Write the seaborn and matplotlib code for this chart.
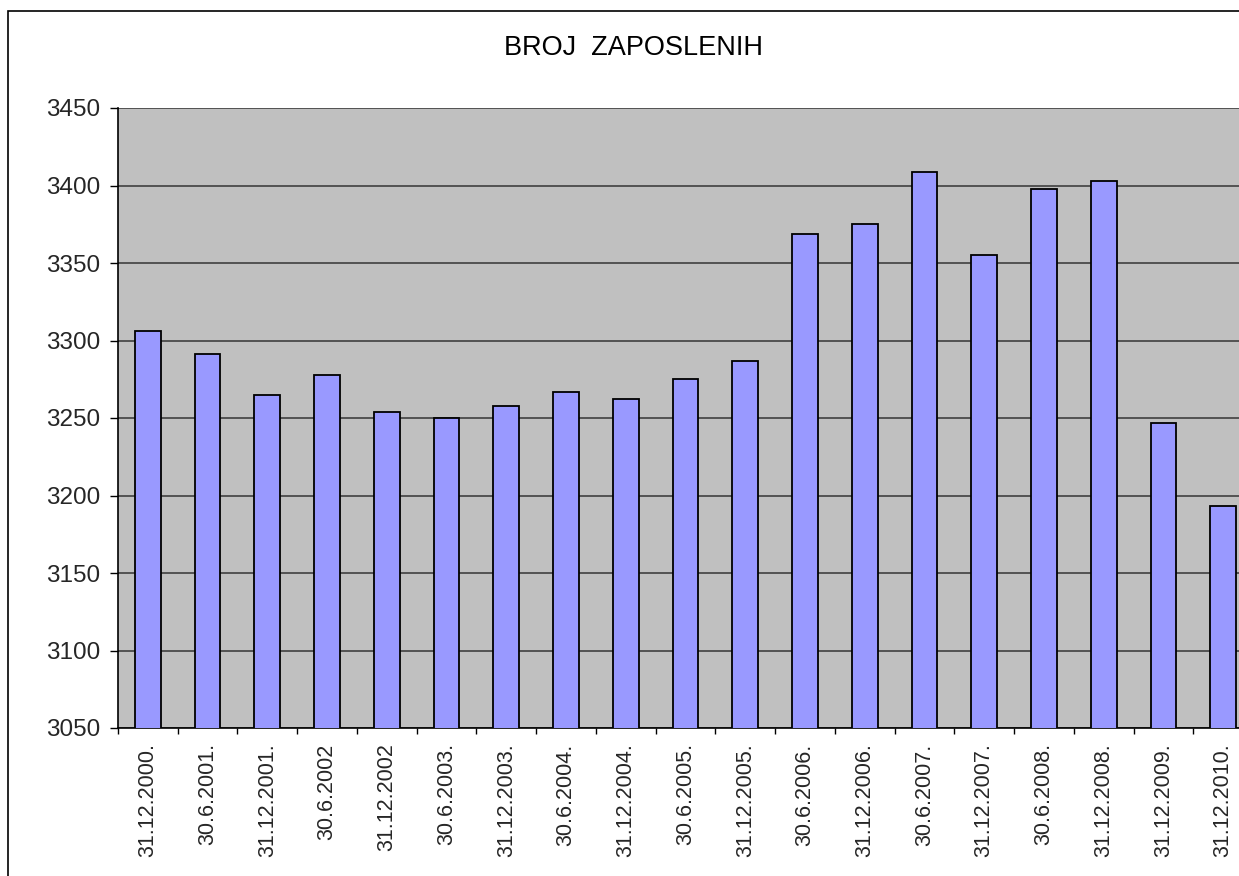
import matplotlib
matplotlib.use("Agg")
import matplotlib.pyplot as plt
from matplotlib.patches import Rectangle
import seaborn as sns
import pandas as pd

# Data
dates = ['31.12.2000.', '30.6.2001.', '31.12.2001.', '30.6.2002', '31.12.2002',
         '30.6.2003.', '31.12.2003.', '30.6.2004.', '31.12.2004.', '30.6.2005.',
         '31.12.2005.', '30.6.2006.', '31.12.2006.', '30.6.2007.', '31.12.2007.',
         '30.6.2008.', '31.12.2008.', '31.12.2009.', '31.12.2010.']
employees = [3306, 3291, 3265, 3278, 3254, 3250, 3258, 3267, 3262, 3275,
             3287, 3369, 3375, 3409, 3355, 3398, 3403, 3247, 3193]
y_ticks = [3050, 3100, 3150, 3200, 3250, 3300, 3350, 3400, 3450]

df = pd.DataFrame({'date': dates, 'employees': employees})

sns.set_theme(style='white')
plt.rcParams['font.family'] = ['Liberation Sans', 'DejaVu Sans']

W, H = 1239, 876
fig = plt.figure(figsize=(W / 100, H / 100), dpi=100)
fig.patch.set_facecolor('white')

# plot area runs past the right edge, like the cropped original
ax = fig.add_axes([118 / W, 148 / H, 1135 / W, 620 / H])
ax.set_facecolor('#c0c0c0')

sns.barplot(data=df, x='date', y='employees', color='#9999ff', saturation=1,
            edgecolor='black', linewidth=1.3, width=0.43, ax=ax, zorder=3)

ax.set_ylim(3050, 3450)
ax.set_xlim(-0.5, len(dates) - 0.5)
ax.set_yticks(y_ticks)
ax.yaxis.grid(True, color='#404040', linewidth=1.2, zorder=0)
ax.xaxis.grid(False)
ax.set_axisbelow(True)

ax.set_xlabel('')
ax.set_ylabel('')

for side in ['top', 'right']:
    ax.spines[side].set_visible(False)
for side in ['left', 'bottom']:
    ax.spines[side].set_color('black')
    ax.spines[side].set_linewidth(1.2)

ax.tick_params(axis='y', which='major', direction='out', length=6, width=1,
               color='black', labelsize=17.5, pad=7, left=True)
ax.set_xticks(range(len(dates)))
ax.set_xticklabels(dates, rotation=90, va='top', ha='center')
ax.set_xticks([i - 0.5 for i in range(len(dates) + 1)], minor=True)
ax.tick_params(axis='x', which='major', length=0, labelsize=15.5, pad=11)
ax.tick_params(axis='x', which='minor', direction='out', length=4.5, width=1,
               color='black', bottom=True)

fig.text(633 / W, 1 - 48 / H, 'BROJ  ZAPOSLENIH', ha='center', va='center',
         fontsize=19.5, color='black')

# outer chart border (cropped on right and bottom)
fig.add_artist(Rectangle((8 / W, -0.1), 1.2, 1.1 - 11 / H,
                         transform=fig.transFigure, fill=False,
                         edgecolor='black', linewidth=1.2))

fig.savefig('out.png', dpi=100)
